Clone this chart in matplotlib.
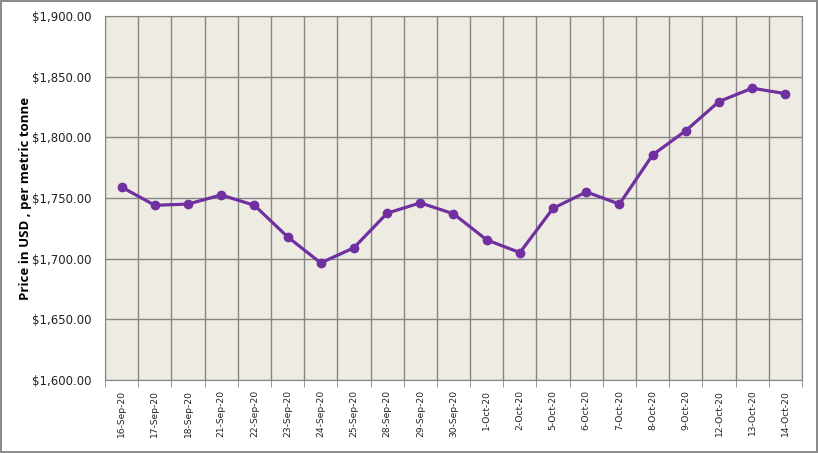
import matplotlib.pyplot as plt
import numpy as np
from matplotlib.ticker import FuncFormatter, FixedLocator

dates = ['16-Sep-20', '17-Sep-20', '18-Sep-20', '21-Sep-20', '22-Sep-20',
         '23-Sep-20', '24-Sep-20', '25-Sep-20', '28-Sep-20', '29-Sep-20',
         '30-Sep-20', '1-Oct-20', '2-Oct-20', '5-Oct-20', '6-Oct-20',
         '7-Oct-20', '8-Oct-20', '9-Oct-20', '12-Oct-20', '13-Oct-20',
         '14-Oct-20']
prices = [1759, 1744, 1745, 1752.5, 1744, 1718, 1696.5, 1709, 1737.5, 1746,
          1737, 1715.5, 1705, 1741.5, 1755, 1745, 1785.5, 1805.5, 1829.5,
          1840.5, 1836]

fig = plt.figure(figsize=(8.18, 4.53), dpi=100)
fig.patch.set_edgecolor('#8C8C8C')
fig.patch.set_linewidth(1.5)
ax = fig.add_axes([0.1284, 0.1611, 0.852, 0.8036])
ax.set_facecolor('#EEEBE3')

x = np.arange(len(dates))
ax.plot(x, prices, color='#7030A0', linewidth=2.3, marker='o', markersize=6, zorder=3)

ax.set_xlim(-0.5, len(dates) - 0.5)
ax.set_ylim(1600, 1900)
ax.set_yticks(np.arange(1600, 1901, 50))
ax.yaxis.set_major_formatter(FuncFormatter(lambda v, p: '${:,.2f}'.format(v)))
ax.set_xticks(x)
ax.set_xticklabels(dates, rotation=90)
ax.xaxis.set_minor_locator(FixedLocator(np.arange(-0.5, len(dates), 1)))

# category-boundary vertical lines, like the Excel original
ax.grid(axis='y', which='major', color='#868686', linewidth=1)
ax.grid(axis='x', which='minor', color='#868686', linewidth=1)
ax.set_axisbelow(True)
ax.tick_params(axis='both', which='both', length=0, labelsize=8.5, colors='#222222')
ax.tick_params(axis='x', which='minor', length=5, color='#868686')
ax.tick_params(axis='x', which='major', pad=7, labelsize=6.6)
ax.tick_params(axis='y', pad=10)
for s in ax.spines.values():
    s.set_color('#868686')

ax.set_ylabel('Price in USD , per metric tonne', fontweight='bold', fontsize=9.5,
              family='Open Sans', labelpad=0)

fig.savefig('out.png', dpi=100, edgecolor=fig.get_edgecolor())
